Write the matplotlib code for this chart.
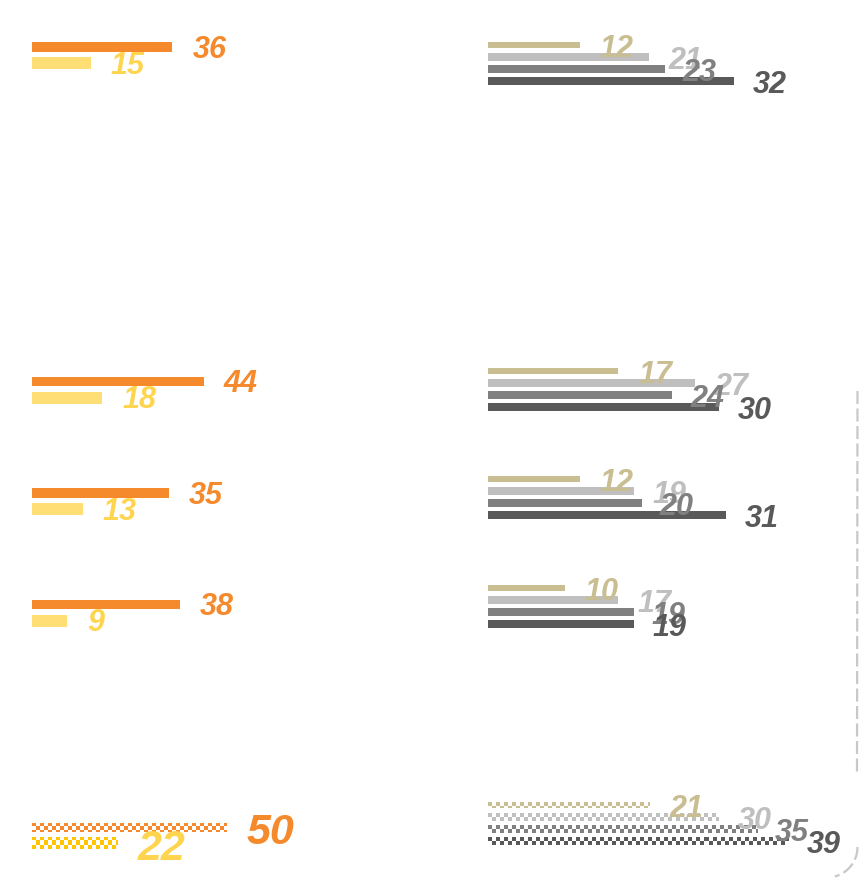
import numpy as np
import matplotlib
matplotlib.use("Agg")
import matplotlib.pyplot as plt
from matplotlib.colors import to_rgba

plt.rcParams['font.family'] = ['Liberation Sans', 'DejaVu Sans']
plt.rcParams['lines.scale_dashes'] = False

# ---------------- data ----------------
rows = [0, 3, 4, 5, 7]
orange = [36, 44, 35, 38, 50]
yellow = [15, 18, 13, 9, 22]
tan = [12, 17, 12, 10, 21]
light = [21, 27, 19, 17, 30]
mid = [23, 24, 20, 19, 35]
dark = [32, 30, 31, 19, 39]
checkered = [False, False, False, False, True]

# ---------------- style ----------------
C_OR = '#F58A2D'
C_YE = '#FFDE75'
C_YE_T = '#FFD54F'
C_YE_CH = '#FFC600'
C_TAN = '#C9BE91'
C_LG = '#BFBFBF'
C_MG = '#808080'
C_DG = '#595959'

W, H = 859, 879
fig = plt.figure(figsize=(W / 100, H / 100), dpi=100)

# left panel geometry (pixels)
L_x0, L_ppu = 32, 3.9
L_c0, L_pitch = 56, 111.5
axL = fig.add_axes([L_x0 / W, 0, 100 * L_ppu / W, 1])
axL.set_xlim(0, 100)
axL.set_ylim((H - L_c0) / L_pitch, -L_c0 / L_pitch)
axL.axis('off')

# right panel geometry (pixels)
R_x0, R_ppu = 487.5, 7.7
R_c0, R_pitch = 64, 108.6
axR = fig.add_axes([R_x0 / W, 0, 48 * R_ppu / W, 1])
axR.set_xlim(0, 48)
axR.set_ylim((H - R_c0) / R_pitch, -R_c0 / R_pitch)
axR.axis('off')


def checker(ax, patch, color, cell=4.0):
    x0, y0 = patch.get_x(), patch.get_y()
    w, h = patch.get_width(), patch.get_height()
    p0 = ax.transData.transform((x0, y0))
    p1 = ax.transData.transform((x0 + w, y0 + h))
    wpx, hpx = abs(p1[0] - p0[0]), abs(p1[1] - p0[1])
    ncol = int(np.ceil(wpx / cell))
    nrow = int(np.ceil(hpx / cell))
    grid = np.add.outer(np.arange(nrow), np.arange(ncol)) % 2
    img = np.ones((nrow, ncol, 4))
    img[grid == 0] = to_rgba(color)
    x1 = x0 + ncol * cell * w / wpx
    y1 = y0 + nrow * cell * h / hpx
    xl, yl = ax.get_xlim(), ax.get_ylim()
    im = ax.imshow(img, extent=(x0, x1, y1, y0), aspect='auto',
                   interpolation='nearest', zorder=2)
    patch.set_facecolor('none')
    patch.set_linewidth(0)
    im.set_clip_path(patch)
    ax.set_xlim(xl)
    ax.set_ylim(yl)


def draw_series(ax, vals, off, hgt, color, tcolor, ch_color, sizes, dx=21, dys=None):
    ys = [r + off for r in rows]
    bars = ax.barh(ys, vals, height=hgt, color=color, linewidth=0, zorder=2)
    for b, v, y, ch, fs, dy in zip(bars, vals, ys, checkered, sizes, dys):
        if ch:
            checker(ax, b, ch_color)
        ax.annotate(str(v), xy=(v, y), xytext=(dx, dy), textcoords='offset pixels',
                    ha='left', va='center', fontsize=fs, fontweight='bold',
                    fontstyle='italic', color=tcolor, zorder=5,
                    annotation_clip=False)


# left: orange & yellow
lp = L_pitch
big = [22, 22, 22, 22, 31]
dyl = [-2, -2, -2, -2, -5]
draw_series(axL, orange, -8 / lp, 9.5 / lp, C_OR, C_OR, C_OR, big, dx=20, dys=dyl)
draw_series(axL, yellow, 8 / lp, 12 / lp, C_YE, C_YE_T, C_YE_CH, big, dx=20, dys=dyl)

# right: four grey/tan series
rp = R_pitch
dyr = [-3] * 5
draw_series(axR, tan, -18 / rp, 6 / rp, C_TAN, C_TAN, C_TAN, [22] * 5, dx=20, dys=dyr)
draw_series(axR, light, -6 / rp, 8 / rp, C_LG, C_LG, C_LG, [22] * 5, dx=19, dys=dyr)
draw_series(axR, mid, 6 / rp, 8 / rp, C_MG, C_MG, C_MG, [22] * 5, dx=18, dys=dyr)
draw_series(axR, dark, 18 / rp, 8 / rp, C_DG, C_DG, C_DG, [22] * 5, dx=19, dys=dyr)

# decorative dashed frame edge on the right
axO = fig.add_axes([0, 0, 1, 1], zorder=-1)
axO.set_xlim(0, W)
axO.set_ylim(H, 0)
axO.axis('off')
axO.plot([857.5, 857.0], [392, 773], color='#C8C8C8', lw=1.6,
         linestyle=(0, (9.4, 3.2)))
th = np.linspace(0, np.deg2rad(75), 30)
axO.plot(827 + 30.5 * np.cos(th), 848 + 30.5 * np.sin(th), color='#C8C8C8',
         lw=1.6, linestyle=(0, (9.4, 3.2)))

fig.savefig('out.png', dpi=100)
